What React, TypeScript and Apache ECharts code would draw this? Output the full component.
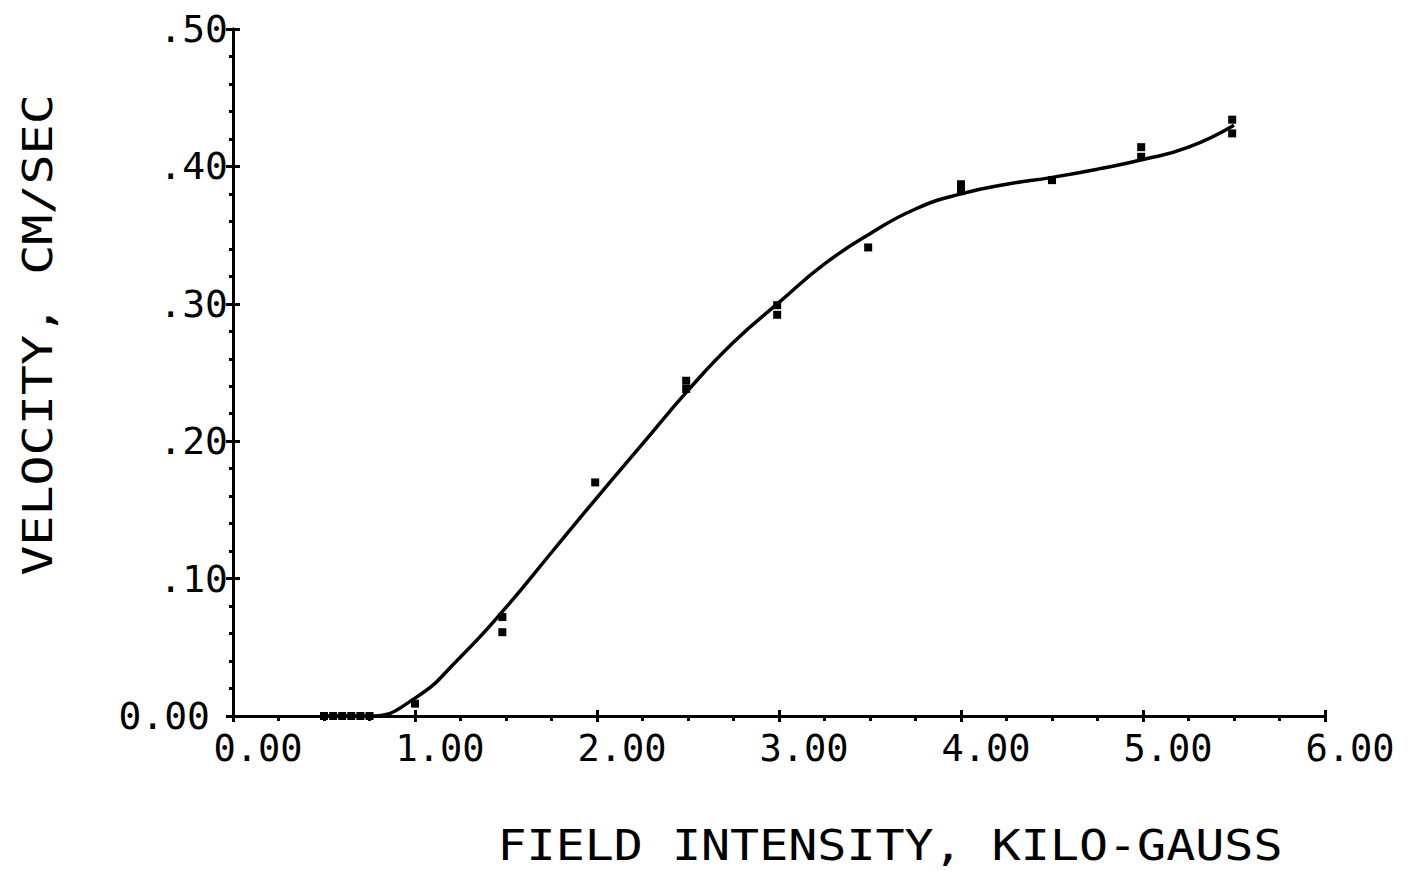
import React, { useEffect, useRef } from "react";
import * as echarts from "echarts";

// Measured data points (field intensity kG, velocity cm/s)
const pointField = [0.5, 0.55, 0.6, 0.65, 0.7, 0.75, 1.0, 1.48, 1.48, 1.99, 2.49, 2.49, 2.99, 2.99, 3.49, 4.0, 4.0, 4.5, 4.99, 4.99, 5.49, 5.49];
const pointVelocity = [0, 0, 0, 0, 0, 0, 0.009, 0.072, 0.061, 0.17, 0.244, 0.238, 0.299, 0.292, 0.341, 0.387, 0.382, 0.39, 0.414, 0.407, 0.434, 0.424];

// Fitted curve (read every 0.25 kG)
const curveField = [0.5, 0.75, 1.0, 1.25, 1.5, 1.75, 2.0, 2.25, 2.5, 2.75, 3.0, 3.25, 3.5, 3.75, 4.0, 4.25, 4.5, 4.75, 5.0, 5.25, 5.5];
const curveVelocity = [0, 0, 0.013, 0.043, 0.079, 0.119, 0.159, 0.198, 0.237, 0.272, 0.301, 0.329, 0.351, 0.369, 0.38, 0.387, 0.392, 0.398, 0.405, 0.414, 0.43];

const xTitle = "FIELD INTENSITY, KILO-GAUSS";
const yTitle = "VELOCITY, CM/SEC";

const FONT = "'DejaVu Sans Mono', 'Liberation Mono', monospace";
const INK = "#000";

export default function App() {
  const ref = useRef<HTMLDivElement>(null);
  useEffect(() => {
    if (!ref.current) return;
    const chart = echarts.init(ref.current, undefined, { renderer: "svg" });
    const axisLine = { show: true, lineStyle: { color: INK, width: 3 } };
    const option: any = {
      animation: false,
      backgroundColor: "#fff",
      grid: { left: 233, right: 87, top: 29, bottom: 155 },
      xAxis: [
        {
          type: "value",
          min: 0,
          max: 6,
          interval: 1,
          axisLine,
          axisTick: { show: true, length: 6, lineStyle: { color: INK, width: 3 } },
          minorTick: { show: true, splitNumber: 4, length: 5, lineStyle: { color: INK, width: 3 } },
          splitLine: { show: false },
          axisLabel: {
            formatter: (v: number) => v.toFixed(2),
            fontFamily: FONT,
            fontSize: 37,
            color: INK,
            margin: 14,
            padding: [0, 0, 0, 50],
          },
        },
        {
          type: "value",
          min: 0,
          max: 6,
          interval: 1,
          position: "bottom",
          axisLine,
          axisTick: { show: true, inside: true, length: 6, lineStyle: { color: INK, width: 3 } },
          minorTick: { show: false },
          splitLine: { show: false },
          axisLabel: { show: false },
        },
      ],
      yAxis: [
        {
          type: "value",
          min: 0,
          max: 0.5,
          interval: 0.1,
          axisLine,
          axisTick: { show: true, length: 7, lineStyle: { color: INK, width: 3 } },
          minorTick: { show: true, splitNumber: 5, length: 4, lineStyle: { color: INK, width: 3 } },
          splitLine: { show: false },
          axisLabel: {
            formatter: (v: number) =>
              v === 0 ? "{z|0.00}" : "." + (v * 100).toFixed(0).padStart(2, "0"),
            fontFamily: FONT,
            fontSize: 38,
            color: INK,
            margin: 5,
            rich: {
              z: { fontFamily: FONT, fontSize: 38, color: INK, padding: [0, 18, 0, 0] },
            },
          },
        },
        {
          type: "value",
          min: 0,
          max: 0.5,
          interval: 0.1,
          position: "left",
          axisLine,
          axisTick: { show: true, inside: true, length: 7, lineStyle: { color: INK, width: 3 } },
          minorTick: { show: false },
          splitLine: { show: false },
          axisLabel: { show: false },
        },
      ],
      series: [
        {
          type: "line",
          data: curveField.map((x, i) => [x, curveVelocity[i]]),
          smooth: 0.5,
          clip: true,
          showSymbol: false,
          symbol: "none",
          lineStyle: { color: INK, width: 3.5 },
          z: 3,
        },
        {
          type: "scatter",
          data: pointField.map((x, i) => [x, pointVelocity[i]]),
          symbol: "rect",
          symbolSize: 8,
          itemStyle: { color: INK, opacity: 1 },
          z: 4,
        },
      ],
      graphic: [
        {
          type: "text",
          x: 890,
          y: 846,
          scaleX: 1.15,
          style: {
            text: xTitle,
            fontFamily: FONT,
            fontSize: 42,
            fill: INK,
            textAlign: "center",
            textVerticalAlign: "middle",
            align: "center",
            verticalAlign: "middle",
          },
        },
        {
          type: "text",
          x: 38,
          y: 335,
          rotation: Math.PI / 2,
          scaleX: 1.25,
          style: {
            text: yTitle,
            fontFamily: FONT,
            fontSize: 40,
            fill: INK,
            textAlign: "center",
            textVerticalAlign: "middle",
            align: "center",
            verticalAlign: "middle",
          },
        },
      ],
    };
    chart.setOption(option);
    return () => chart.dispose();
  }, []);
  return (
    <div
      ref={ref}
      style={{ position: "fixed", left: 0, top: 0, width: 1412, height: 871, background: "#fff" }}
    />
  );
}
